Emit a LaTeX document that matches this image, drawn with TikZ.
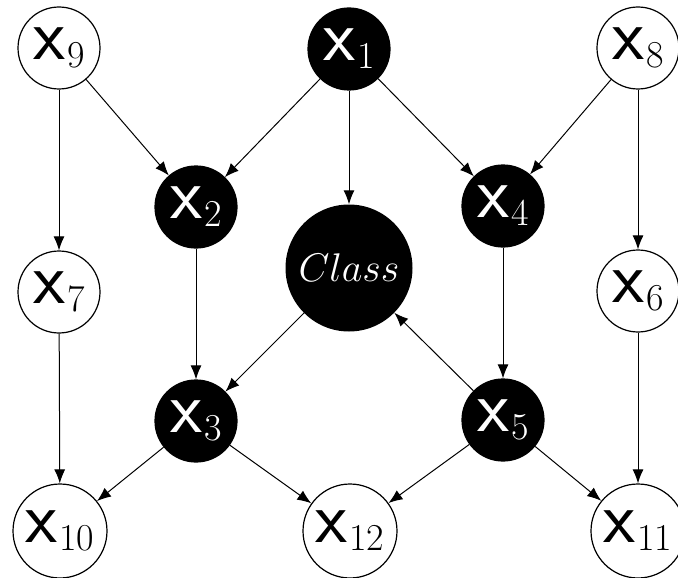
\RequirePackage{fix-cm}
\documentclass[tikz,border=0pt]{standalone}
\usepackage{fontspec}
\usepackage{graphicx}
\usetikzlibrary{arrows.meta}
\newcommand{\nlab}[1]{{\fontsize{74}{74}\selectfont\sffamily x}\kern2pt\raisebox{-8pt}{\fontsize{38}{38}\selectfont #1}}
\tikzset{
  vnode/.style={circle, draw=black, line width=1.2pt, inner sep=0pt, minimum size=82pt},
  wnode/.style={vnode, fill=white, text=black},
  bnode/.style={vnode, fill=black, text=white},
  wide/.style={minimum size=94pt},
  conn/.style={line width=1pt, -{Latex[length=14pt,width=11pt]}}
}
\begin{document}
\begin{tikzpicture}[x=1pt,y=-1pt]
\useasboundingbox (0,0) rectangle (678,578);
\node[wnode] (x9) at (59,48) {\nlab{9}};
\node[bnode] (x1) at (349,49) {\nlab{1}};
\node[wnode] (x8) at (638,48) {\nlab{8}};
\node[bnode] (x2) at (196,207) {\nlab{2}};
\node[bnode] (x4) at (503,206) {\nlab{4}};
\node[circle, fill=black, text=white, inner sep=0pt, minimum size=127pt] (cl) at (349,268) {\fontsize{40}{40}\selectfont$Class$};
\node[wnode] (x7) at (59,292) {\nlab{7}};
\node[wnode] (x6) at (638,291) {\nlab{6}};
\node[bnode] (x3) at (196,421) {\nlab{3}};
\node[bnode] (x5) at (503,420) {\nlab{5}};
\node[wnode,wide] (x10) at (60,531) {\nlab{10}};
\node[wnode,wide] (x12) at (350,531) {\nlab{12}};
\node[wnode,wide] (x11) at (638,531) {\nlab{11}};
\draw[conn] (x9) -- (x2);
\draw[conn] (x9) -- (x7);
\draw[conn] (x1) -- (x2);
\draw[conn] (x1) -- (cl);
\draw[conn] (x1) -- (x4);
\draw[conn] (x8) -- (x4);
\draw[conn] (x8) -- (x6);
\draw[conn] (x2) -- (x3);
\draw[conn] (x4) -- (x5);
\draw[conn] (cl) -- (x3);
\draw[conn] (x5) -- (cl);
\draw[conn] (x7) -- (x10);
\draw[conn] (x6) -- (x11);
\draw[conn] (x3) -- (x10);
\draw[conn] (x3) -- (x12);
\draw[conn] (x5) -- (x12);
\draw[conn] (x5) -- (x11);
\end{tikzpicture}
\end{document}
